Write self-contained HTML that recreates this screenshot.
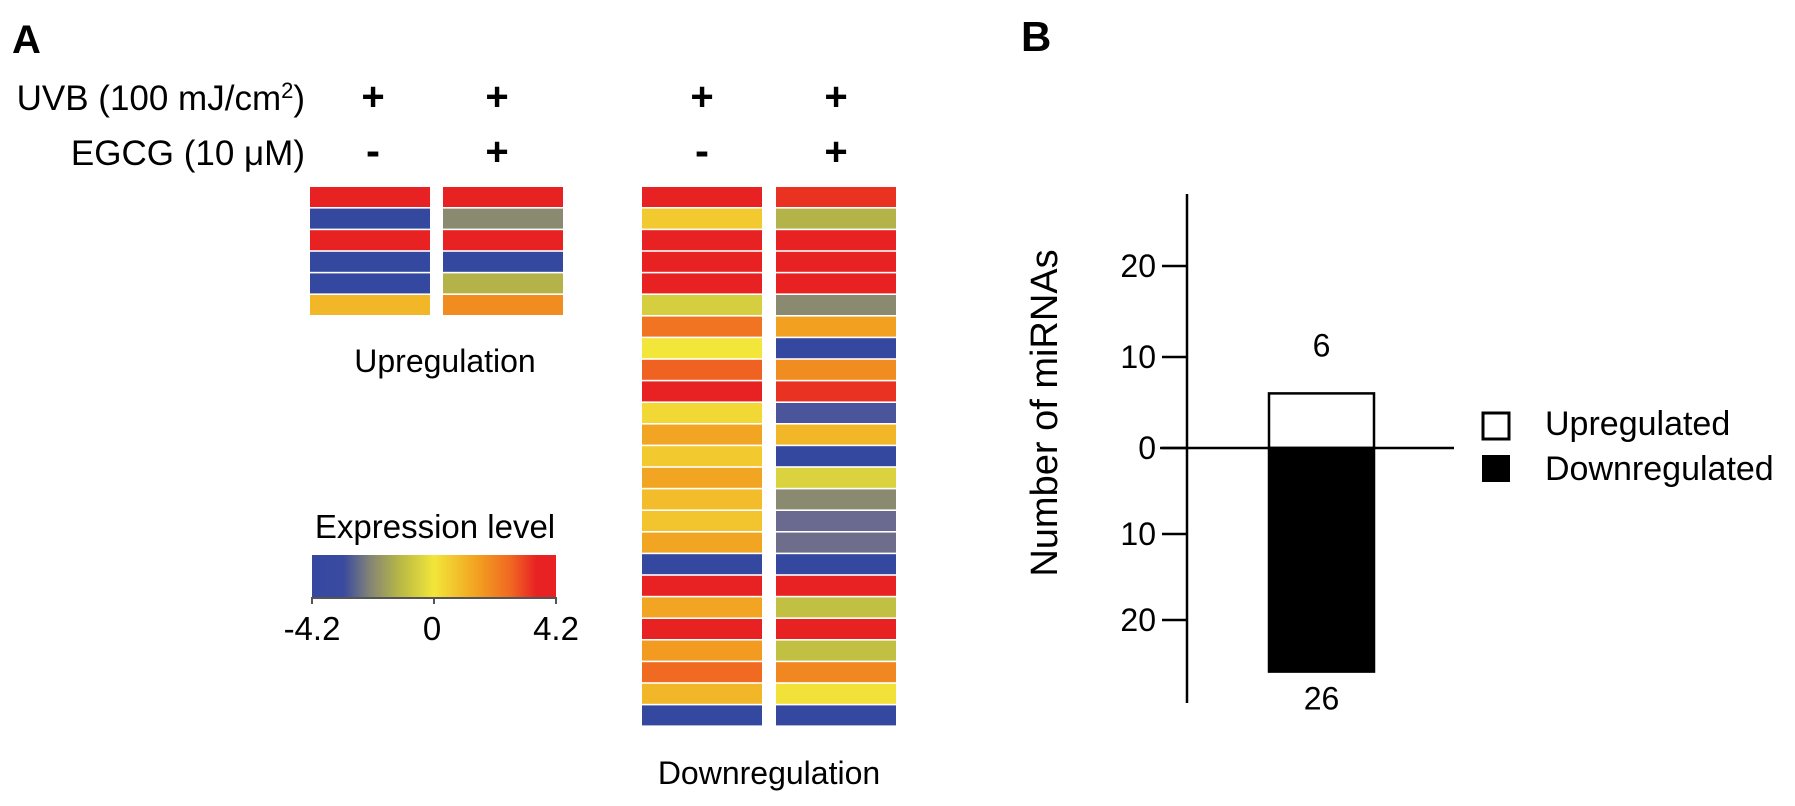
<!DOCTYPE html>
<html><head><meta charset="utf-8"><style>
html,body{margin:0;padding:0;background:#fff;}
svg{display:block;font-family:"Liberation Sans",Arial,sans-serif;}
</style></head><body>
<svg id="fig" width="1795" height="806" viewBox="0 0 1795 806">
<text x="12" y="53" font-size="40" font-weight="bold">A</text>
<text x="1021" y="51" font-size="42" font-weight="bold">B</text>
<text x="305" y="110" font-size="35" text-anchor="end">UVB (100 mJ/cm<tspan font-size="22" dy="-12">2</tspan><tspan dy="12">)</tspan></text>
<text x="305" y="165" font-size="35" text-anchor="end">EGCG (10 μM)</text>
<g id="heat"></g>
<text x="445" y="372" font-size="32" text-anchor="middle">Upregulation</text>
<text x="769" y="784" font-size="32" text-anchor="middle">Downregulation</text>
<text x="435" y="538" font-size="33" text-anchor="middle">Expression level</text>
<defs><linearGradient id="cg" x1="0" x2="1" y1="0" y2="0">
<stop offset="0" stop-color="#3448a0"/><stop offset="0.13" stop-color="#3a4aa0"/>
<stop offset="0.24" stop-color="#858575"/><stop offset="0.36" stop-color="#b8b845"/>
<stop offset="0.5" stop-color="#f2e63a"/><stop offset="0.68" stop-color="#f2a020"/>
<stop offset="0.81" stop-color="#f06a22"/><stop offset="0.92" stop-color="#e82222"/><stop offset="1" stop-color="#e82222"/>
</linearGradient></defs>
<rect x="312" y="555" width="244" height="42" fill="url(#cg)"/>
<line x1="312" y1="598" x2="556" y2="598" stroke="#555" stroke-width="2"/>
<g id="cbticks"></g>
<g id="bar"></g>
<text transform="translate(1057,413) rotate(-90)" font-size="38" text-anchor="middle">Number of miRNAs</text>
<rect x="1483" y="413" width="26" height="26" fill="#fff" stroke="#000" stroke-width="3"/>
<text x="1545" y="435" font-size="34">Upregulated</text>
<rect x="1482" y="455" width="28" height="27" fill="#000"/>
<text x="1545" y="480" font-size="34">Downregulated</text>
</svg>
<script>
const upCol1=[4.2,-4.2,4.2,-4.2,-4.2,1.0];
const upCol2=[4.2,-2.1,4.2,-4.2,-1.3,1.9];
const downCol1=[4.2,0.6,4.2,4.2,4.2,-0.6,2.4,0.0,2.7,4.2,0.3,1.4,0.6,1.4,0.9,0.7,1.4,-4.2,4.2,1.4,4.2,1.6,2.6,1.0,-4.2];
const downCol2=[3.3,-1.3,4.2,4.2,4.2,-2.1,1.5,-4.2,1.9,3.3,-3.0,1.0,-4.2,-0.5,-2.1,-2.8,-2.7,-4.2,3.8,-1.0,4.2,-1.0,2.0,0.1,-4.2];
const cbTicks=[-4.2,0,4.2];
const barCats=["Upregulated","Downregulated"];
const barVals=[6,-26];
const yTicks=[20,10,0,-10,-20];
const yTickLabels=["20","10","0","10","20"];

const NS="http://www.w3.org/2000/svg";
function mk(t,a,p){const e=document.createElementNS(NS,t);for(const k in a)e.setAttribute(k,a[k]);p.appendChild(e);return e;}
const stops=[[-4.2,[52,72,160]],[-3.1,[58,74,160]],[-2.8,[106,106,144]],[-2.2,[133,133,117]],[-1.2,[184,184,69]],[0,[242,230,58]],[1.5,[242,160,32]],[2.6,[240,106,34]],[3.5,[232,34,34]],[4.2,[232,34,34]]];
function color(v){v=Math.max(-4.2,Math.min(4.2,v));for(let i=0;i<stops.length-1;i++){const a=stops[i],b=stops[i+1];if(v<=b[0]){const t=(v-a[0])/(b[0]-a[0]);const c=a[1].map((x,j)=>Math.round(x+(b[1][j]-x)*t));return`rgb(${c})`;}}return"rgb(232,34,34)";}
const heat=document.getElementById('heat');
const top0=187,rowH=21.6;
function col(vals,x,w,name){vals.forEach((v,i)=>{const r=mk('rect',{x:x,y:top0+i*rowH,width:w,height:rowH-1.6,fill:color(v)},heat);

});}
col(upCol1,310,120,'up-uvb');col(upCol2,443,120,'up-uvb-egcg');
col(downCol1,642,120,'down-uvb');col(downCol2,776,120,'down-uvb-egcg');
const hdr=[[373,110,'+'],[497,110,'+'],[373,165,'-'],[497,165,'+'],[702,110,'+'],[836,110,'+'],[702,165,'-'],[836,165,'+']];
hdr.forEach((h,i)=>{const t=mk('text',{x:h[0],y:h[1],'font-size':h[2]=='-'?42:40,'font-weight':'bold','text-anchor':'middle'},heat);t.textContent=h[2];

});
const cbg=document.getElementById('cbticks');
const cx=v=>312+(v+4.2)/8.4*244;
cbTicks.forEach(v=>{mk('line',{x1:cx(v),y1:597,x2:cx(v),y2:604,stroke:'#555','stroke-width':2},cbg);
const t=mk('text',{x:cx(v)-(v===0?2:0),y:640,'font-size':33,'text-anchor':'middle'},cbg);t.textContent=String(v);

});
const bg=document.getElementById('bar');
const zeroY=448;
const y=v=>v>=0?zeroY-v*9.1:zeroY-v*8.6;
const ax=1187;
mk('line',{x1:ax,y1:194,x2:ax,y2:703,stroke:'#000','stroke-width':2.5},bg);
yTicks.forEach((v,i)=>{mk('line',{x1:1162,y1:y(v),x2:ax,y2:y(v),stroke:'#000','stroke-width':2.5},bg);
const t=mk('text',{x:1156,y:y(v)+11,'font-size':32,'text-anchor':'end'},bg);t.textContent=yTickLabels[i];

});
const bx=1269,bw=105;
barVals.forEach((v,i)=>{const y0=y(Math.max(v,0)),y1=y(Math.min(v,0));
const r=mk('rect',{x:bx,y:y0,width:bw,height:y1-y0,fill:v>=0?'#fff':'#000',stroke:'#000','stroke-width':2.5},bg);


const t=mk('text',{x:bx+bw/2,y:v>=0?y(v)-37:y(v)+38,'font-size':32,'text-anchor':'middle'},bg);t.textContent=String(Math.abs(v));

});
const zl=mk('line',{x1:1160,y1:zeroY,x2:1454,y2:zeroY,stroke:'#000','stroke-width':2.5},bg);


</script>
</body></html>
